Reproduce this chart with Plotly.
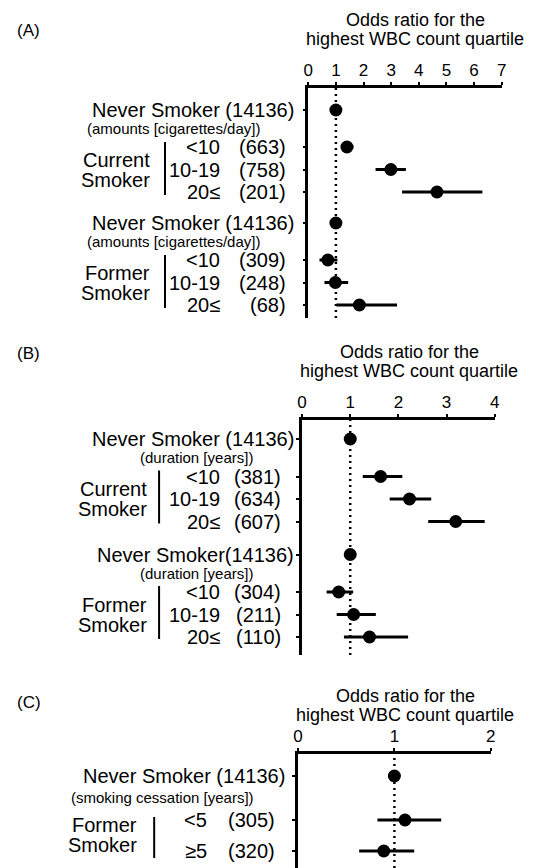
import plotly.graph_objects as go

W, H = 539, 868
FONT = "Liberation Sans, Arial, Helvetica, sans-serif"

# ---------------- data ----------------
A_labels = ["Never Smoker (14136)", "<10", "10-19", "20≤",
            "Never Smoker (14136)", "<10", "10-19", "20≤"]
A_counts = ["", "(663)", "(758)", "(201)", "", "(309)", "(248)", "(68)"]
A_or = [1.00, 1.40, 2.99, 4.66, 1.00, 0.71, 0.98, 1.85]
A_lo = [1.00, 1.24, 2.49, 3.45, 1.00, 0.46, 0.64, 1.07]
A_hi = [1.00, 1.58, 3.48, 6.25, 1.00, 1.00, 1.39, 3.16]
A_sub = "(amounts [cigarettes/day])"
A_groups = ["Current|Smoker", "Former|Smoker"]
A_ticks = [0, 1, 2, 3, 4, 5, 6, 7]

B_labels = ["Never Smoker (14136)", "<10", "10-19", "20≤",
            "Never Smoker(14136)", "<10", "10-19", "20≤"]
B_counts = ["", "(381)", "(634)", "(607)", "", "(304)", "(211)", "(110)"]
B_or = [1.00, 1.63, 2.23, 3.19, 1.00, 0.76, 1.07, 1.40]
B_lo = [1.00, 1.29, 1.85, 2.65, 1.00, 0.54, 0.75, 0.90]
B_hi = [1.00, 2.05, 2.65, 3.76, 1.00, 1.03, 1.50, 2.17]
B_sub = "(duration [years])"
B_groups = ["Current|Smoker", "Former|Smoker"]
B_ticks = [0, 1, 2, 3, 4]

C_labels = ["Never Smoker (14136)", "<5", "≥5"]
C_counts = ["", "(305)", "(320)"]
C_or = [1.00, 1.11, 0.89]
C_lo = [1.00, 0.84, 0.65]
C_hi = [1.00, 1.47, 1.19]
C_sub = "(smoking cessation [years])"
C_groups = ["Former|Smoker"]
C_ticks = [0, 1, 2]

TITLE1 = "Odds ratio for the"
TITLE2 = "highest WBC count quartile"

# ---------------- layout settings (pixels) ----------------
panels = [
    dict(tag="(A)", labels=A_labels, counts=A_counts, orv=A_or, lo=A_lo, hi=A_hi,
         sub=A_sub, groups=A_groups, ticks=A_ticks,
         x0=309, x1=506, top=88, bottom=318, row0=110,
         never_gap=37, step=22.5, group_gap=31,
         t1=20, t2=39, tcx=418, tag_y=30, standoff=-1,
         never_r=297, cat_r=221, cnt_r=288, grp_r=150, bar_x=163,
         sub_x=82, sub_anchor="left", sub_dy=18, grp_dy=(-10, 10), bar_dy=(-5, 3)),
    dict(tag="(B)", labels=B_labels, counts=B_counts, orv=B_or, lo=B_lo, hi=B_hi,
         sub=B_sub, groups=B_groups, ticks=B_ticks,
         x0=302.7, x1=499, top=420, bottom=655, row0=439,
         never_gap=37.5, step=22.5, group_gap=33,
         t1=352, t2=371, tcx=412, tag_y=353, standoff=-1,
         never_r=296, cat_r=221, cnt_r=283, grp_r=147, bar_x=157,
         sub_x=195, sub_anchor="center", sub_dy=18.5, grp_dy=(-10, 10), bar_dy=(-6, 2)),
    dict(tag="(C)", labels=C_labels, counts=C_counts, orv=C_or, lo=C_lo, hi=C_hi,
         sub=C_sub, groups=C_groups, ticks=C_ticks,
         x0=298.5, x1=495, top=754, bottom=868, row0=776,
         never_gap=44, step=31, group_gap=31,
         t1=696, t2=715, tcx=408, tag_y=702, standoff=-1,
         never_r=287, cat_r=208, cnt_r=277, grp_r=137, bar_x=152,
         sub_x=65, sub_anchor="left", sub_dy=21, grp_dy=(-11, 9), bar_dy=(-3, 7)),
]


def is_never(lbl):
    return lbl.startswith("Never")


def row_positions(labels, never_gap, step, group_gap):
    pos = [0.0]
    for i in range(1, len(labels)):
        if is_never(labels[i - 1]):
            d = never_gap
        elif is_never(labels[i]):
            d = group_gap
        else:
            d = step
        pos.append(pos[-1] + d)
    return pos


fig = go.Figure()
annotations = []
shapes = []
layout_axes = {}

for k, p in enumerate(panels, start=1):
    xa = "x" if k == 1 else f"x{k}"
    ya = "y" if k == 1 else f"y{k}"
    pos = row_positions(p["labels"], p["never_gap"], p["step"], p["group_gap"])

    plus = [h - o for h, o in zip(p["hi"], p["orv"])]
    minus = [o - l for o, l in zip(p["orv"], p["lo"])]
    fig.add_trace(go.Scatter(
        x=p["orv"], y=pos, mode="markers", xaxis=xa, yaxis=ya,
        marker=dict(size=13, color="black"),
        error_x=dict(type="data", symmetric=False, array=plus, arrayminus=minus,
                     thickness=3, width=1.5, color="black"),
        cliponaxis=False, showlegend=False, hoverinfo="x+y"))

    xmax = p["ticks"][-1]
    layout_axes["xaxis" if k == 1 else f"xaxis{k}"] = dict(
        domain=[p["x0"] / W, p["x1"] / W], range=[0, xmax], anchor=ya, side="top",
        tickvals=p["ticks"], ticktext=[str(t) for t in p["ticks"]],
        ticks="outside", ticklen=3, tickwidth=1.5, tickcolor="black",
        ticklabelstandoff=p["standoff"],
        showline=True, linewidth=2.5, linecolor="black",
        showgrid=False, zeroline=False, fixedrange=True,
        tickfont=dict(family=FONT, size=17, color="black"))
    layout_axes["yaxis" if k == 1 else f"yaxis{k}"] = dict(
        domain=[1 - p["bottom"] / H, 1 - p["top"] / H],
        range=[p["bottom"] - p["row0"], p["top"] - p["row0"]], anchor=xa,
        tickvals=pos, showticklabels=False, ticks="outside", ticklen=3,
        tickwidth=1.5, tickcolor="black",
        showline=True, linewidth=2.5, linecolor="black",
        showgrid=False, zeroline=False, fixedrange=True)

    # reference line at OR = 1
    shapes.append(dict(type="line", xref=xa, yref=f"{ya} domain", x0=1, x1=1,
                       y0=0, y1=1, line=dict(color="black", width=2.5, dash="2px,4px")))

    # panel tag
    annotations.append(dict(text=p["tag"], xref="paper", yref="paper", x=10 / W,
                            y=1 - p["tag_y"] / H, xanchor="left", yanchor="middle",
                            showarrow=False, font=dict(family=FONT, size=17, color="black")))
    # axis title (two lines)
    for txt, yy in ((TITLE1, p["t1"]), (TITLE2, p["t2"])):
        annotations.append(dict(text=txt, xref="paper", yref="paper", x=p["tcx"] / W,
                                y=1 - yy / H, xanchor="center", yanchor="middle",
                                showarrow=False,
                                font=dict(family=FONT, size=18, color="black")))

    # row labels
    group_rows = []
    cur = []
    for lbl, cnt, yy in zip(p["labels"], p["counts"], pos):
        if is_never(lbl):
            if cur:
                group_rows.append(cur)
                cur = []
            annotations.append(dict(text=lbl, xref="paper", yref=ya, x=p["never_r"] / W,
                                    y=yy, xanchor="right", yanchor="middle", showarrow=False,
                                    font=dict(family=FONT, size=20, color="black")))
            annotations.append(dict(text=p["sub"], xref="paper", yref=ya,
                                    x=p["sub_x"] / W, y=yy + p["sub_dy"],
                                    xanchor=p["sub_anchor"], yanchor="middle",
                                    showarrow=False,
                                    font=dict(family=FONT, size=15, color="black")))
        else:
            cur.append(yy)
            annotations.append(dict(text=lbl, xref="paper", yref=ya, x=p["cat_r"] / W,
                                    y=yy, xanchor="right", yanchor="middle", showarrow=False,
                                    font=dict(family=FONT, size=20, color="black")))
            annotations.append(dict(text=cnt, xref="paper", yref=ya, x=p["cnt_r"] / W,
                                    y=yy, xanchor="right", yanchor="middle", showarrow=False,
                                    font=dict(family=FONT, size=20, color="black")))
    if cur:
        group_rows.append(cur)

    # group labels with bracket bar
    for gname, rows in zip(p["groups"], group_rows):
        mid = (rows[0] + rows[-1]) / 2
        l1, l2 = gname.split("|")
        for txt, dy in zip((l1, l2), p["grp_dy"]):
            annotations.append(dict(text=txt, xref="paper", yref=ya, x=p["grp_r"] / W,
                                    y=mid + dy, xanchor="right", yanchor="middle",
                                    showarrow=False,
                                    font=dict(family=FONT, size=20, color="black")))
        shapes.append(dict(type="line", xref="paper", yref=ya,
                           x0=p["bar_x"] / W, x1=p["bar_x"] / W,
                           y0=rows[0] + p["bar_dy"][0], y1=rows[-1] + p["bar_dy"][1],
                           line=dict(color="black", width=2)))

fig.update_layout(
    width=W, height=H, margin=dict(l=0, r=0, t=0, b=0),
    paper_bgcolor="white", plot_bgcolor="white",
    annotations=annotations, shapes=shapes, showlegend=False,
    font=dict(family=FONT, color="black"),
    **layout_axes)

fig.write_html("out.html", config={"displayModeBar": False},
               post_script="document.body.style.margin='0';document.body.style.overflow='hidden';")
